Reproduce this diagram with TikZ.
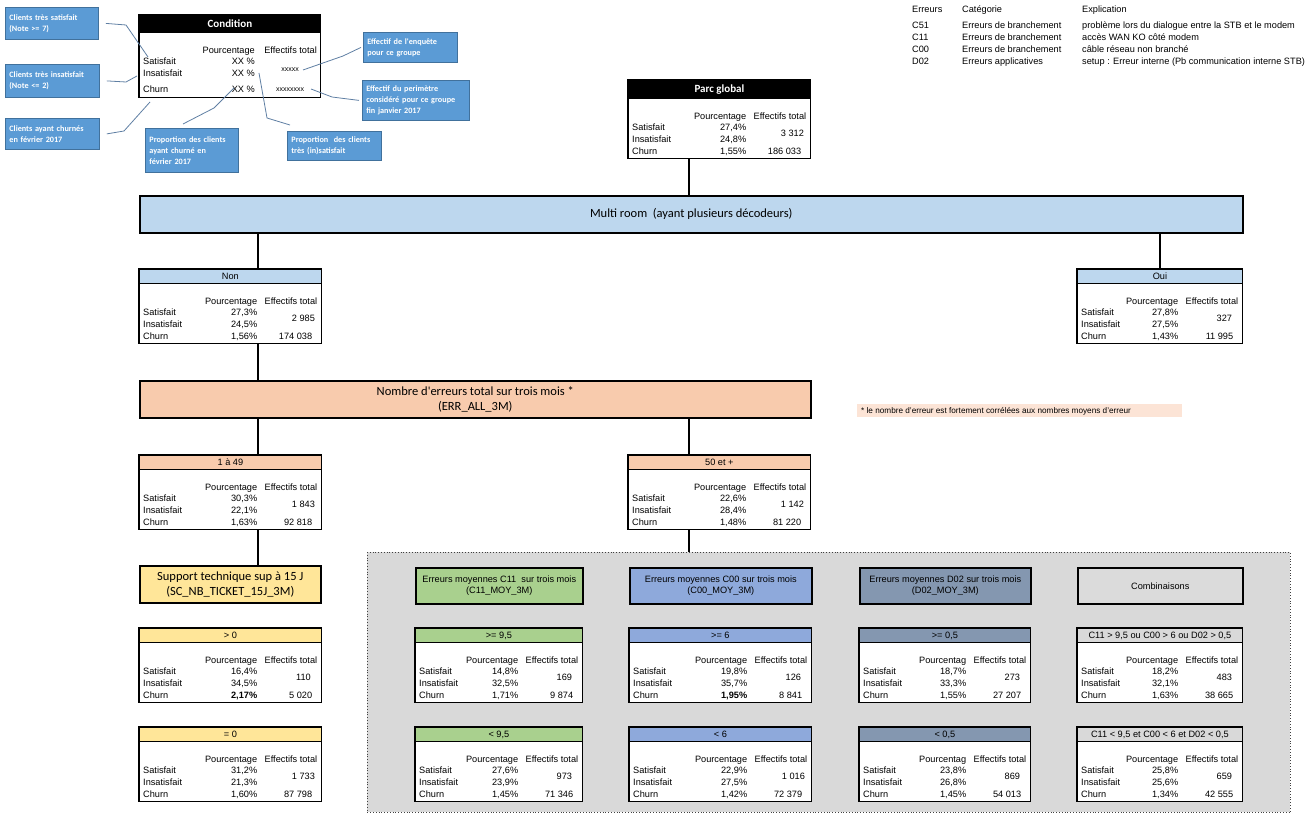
\documentclass[tikz,border=0pt]{standalone}
\usepackage{fontspec}
\setmainfont{Liberation Sans}
\newfontfamily\calibri{Carlito}
\usepackage{xcolor}
\definecolor{calloutbg}{HTML}{5B9BD5}
\definecolor{calloutbd}{HTML}{41719C}
\definecolor{leadercol}{HTML}{5F7FA3}
\definecolor{multibg}{HTML}{BDD7EE}
\definecolor{errbg}{HTML}{F8CBAD}
\definecolor{notebg}{HTML}{FCE4D6}
\definecolor{supbg}{HTML}{FFE699}
\definecolor{cOnebg}{HTML}{A9D08E}
\definecolor{cZerobg}{HTML}{8EA9DB}
\definecolor{dZerobg}{HTML}{8497B0}
\definecolor{combobg}{HTML}{DBDBDB}
\definecolor{zonebg}{HTML}{D9D9D9}
\usepackage{tikz}
\usetikzlibrary{positioning,calc}

\newcommand{\tabsize}{\fontsize{9.2}{11}\selectfont}

% result table: name, top-left, width, height, header height, header style, header text, percent label
\newcommand{\restable}[8]{%
  \node[rtbody, minimum width=#3, minimum height=#4, anchor=north west] (#1) at (#2) {};
  \node[rthead, #6, minimum width=#3, minimum height=#5, anchor=north west] (#1-h) at (#1.north west) {#7};
  \draw[rtframe] (#1.north west) rectangle (#1.south east);
  \node[rttext, anchor=mid east] (#1-hp) at ($(#1.south east)+(-64,-42)$) {#8};
  \node[rttext, anchor=mid east] (#1-he) at ($(#1.south east)+(-4,-42)$) {Effectifs total};
  \node[rttext, anchor=mid west] (#1-ls) at ($(#1.south west)+(4,-30.5)$) {Satisfait};
  \node[rttext, anchor=mid west] (#1-li) at ($(#1.south west)+(4,-18.5)$) {Insatisfait};
  \node[rttext, anchor=mid west] (#1-lc) at ($(#1.south west)+(4,-6.5)$) {Churn};
}
% values: name, satisfait, insatisfait, churn, effectif enquete, effectif total
\newcommand{\resvals}[6]{%
  \node[rttext, anchor=mid east] (#1-s) at ($(#1.south east)+(-64,-30.5)$) {#2};
  \node[rttext, anchor=mid east] (#1-i) at ($(#1.south east)+(-64,-18.5)$) {#3};
  \node[rttext, anchor=mid east] (#1-c) at ($(#1.south east)+(-64,-6.5)$) {#4};
  \node[rttext, anchor=mid] (#1-n) at ($(#1.south east)+(-18,-24.5)$) {#5};
  \node[rttext, anchor=mid east] (#1-t) at ($(#1.south east)+(-9,-6.5)$) {#6};
}

\begin{document}
\begin{tikzpicture}[x=1pt, y=-1pt,
    rtbody/.style={fill=white, inner sep=0pt},
    rthead/.style={draw=black, line width=0.8pt, inner sep=0pt, font=\tabsize},
    rtframe/.style={draw=black, line width=1.6pt},
    rttext/.style={inner sep=0pt, font=\tabsize},
    hdblack/.style={fill=black, text=white, font=\calibri\bfseries\fontsize{11}{13}\selectfont},
    hdblue/.style={fill=multibg},
    hderr/.style={fill=errbg},
    hdsup/.style={fill=supbg},
    hdcone/.style={fill=cOnebg},
    hdczero/.style={fill=cZerobg},
    hddzero/.style={fill=dZerobg},
    hdcombo/.style={fill=zonebg},
    bigbox/.style={draw=black, line width=1.6pt, inner sep=0pt, align=center, anchor=north west,
      font=\calibri\fontsize{12.5}{15}\selectfont},
    grouphd/.style={draw=black, line width=1.6pt, inner sep=0pt, align=center, anchor=north west,
      minimum height=36, font=\tabsize},
    link/.style={draw=black, line width=1.6pt},
    callout/.style={fill=calloutbg, draw=calloutbd, line width=0.8pt, text=white, align=left,
      anchor=north west, inner xsep=4pt, inner ysep=2pt,
      font=\calibri\bfseries\fontsize{8.2}{11}\selectfont},
    leader/.style={draw=leadercol, line width=0.8pt},
    legend/.style={inner sep=0pt, anchor=mid west, font=\tabsize}]
  \useasboundingbox (0,0) rectangle (1307,818);

  % legend of the error codes
  \node[legend] (leg-h1) at (912,10) {Erreurs};
  \node[legend] (leg-h2) at (962,10) {Catégorie};
  \node[legend] (leg-h3) at (1082,10) {Explication};
  \foreach \code/\cat/\expl [count=\i] in {
      C51/Erreurs de branchement/problème lors du dialogue entre la STB et le modem,
      C11/Erreurs de branchement/accès WAN KO côté modem,
      C00/Erreurs de branchement/câble réseau non branché,
      D02/Erreurs applicatives/setup : Erreur interne (Pb communication interne STB)} {
    \node[legend] (leg-\i-a) at (912,14+12*\i) {\code};
    \node[legend] (leg-\i-b) at (962,14+12*\i) {\cat};
    \node[legend] (leg-\i-c) at (1082,14+12*\i) {\expl};
  }

  % reading key: Condition
  \node[rtbody, minimum width=181, minimum height=82, anchor=north west] (cond) at (139,15) {};
  \node[rthead, hdblack, minimum width=181, minimum height=17, anchor=north west] (cond-h) at (cond.north west) {Condition};
  \draw[rtframe] (cond.north west) rectangle (cond.south east);
  \node[rttext, anchor=mid east] (cond-hp) at (255,51) {Pourcentage};
  \node[rttext, anchor=mid east] (cond-he) at (317,51) {Effectifs total};
  \node[rttext, anchor=mid west] (cond-ls) at (143,62) {Satisfait};
  \node[rttext, anchor=mid west] (cond-li) at (143,74) {Insatisfait};
  \node[rttext, anchor=mid west] (cond-lc) at (143,90) {Churn};
  \node[rttext, anchor=mid east] (cond-s) at (255,62) {XX \%};
  \node[rttext, anchor=mid east] (cond-i) at (255,74) {XX \%};
  \node[rttext, anchor=mid east] (cond-c) at (255,90) {XX \%};
  \node[rttext, font=\fontsize{7}{8}\selectfont] (cond-n) at (290,70) {xxxxx};
  \node[rttext, font=\fontsize{7}{8}\selectfont] (cond-t) at (290,90) {xxxxxxxx};

  \node[callout, text width=85, minimum height=32] (c1) at (5,7) {Clients très satisfait\\(Note >= 7)};
  \node[callout, text width=86, minimum height=33] (c2) at (5,64) {Clients très insatisfait\\(Note <= 2)};
  \node[callout, text width=86, minimum height=31] (c3) at (5,118) {Clients ayant churnés\\en février 2017};
  \node[callout, text width=85, minimum height=44] (c4) at (145,128) {Proportion des clients\\ayant churné en\\février 2017};
  \node[callout, text width=86, minimum height=29] (c5) at (287,131) {Proportion\ \ des clients\\très (in)satisfait};
  \node[callout, text width=86, minimum height=30] (c6) at (363,32) {Effectif de l'enquête\\pour ce groupe};
  \node[callout, text width=99, minimum height=40] (c7) at (362,80) {Effectif du perimètre\\considéré pour ce groupe\\fin janvier 2017};

  \coordinate (p-sat) at (148,57);
  \coordinate (p-ins) at (137,76);
  \coordinate (p-churn) at (150,102);
  \coordinate (p-pchurn) at (234,88);
  \coordinate (p-psat) at (259,73);
  \coordinate (p-n) at (303,70);
  \coordinate (p-t) at (311,89);
  \draw[leader] ([xshift=7]c1.east) -- (126,25) -- (p-sat);
  \draw[leader] ([xshift=7]c2.east) -- (126,82) -- (p-ins);
  \draw[leader] ([xshift=7]c3.east) -- (124,131) -- (p-churn);
  \draw[leader] ([shift={(38,-4)}]c4.north west) -- (214,108) -- (p-pchurn);
  \draw[leader] ([shift={(3,-6)}]c5.north west) -- (267,118) -- (p-psat);
  \draw[leader] ([xshift=-2]c6.west) -- (343,56) -- (p-n);
  \draw[leader] ([xshift=-3]c7.west) -- (332,97) -- (p-t);

  % tree
  \restable{parc}{628,80}{182}{78}{18}{hdblack}{Parc global}{Pourcentage}
  \resvals{parc}{27,4\%}{24,8\%}{1,55\%}{3 312}{186 033}

  \node[bigbox, fill=multibg, minimum width=1103, minimum height=37] (multi) at (139,195) {Multi room\ \ (ayant plusieurs décodeurs)};

  \restable{non}{139,269}{182}{74}{14}{hdblue}{Non}{Pourcentage}
  \resvals{non}{27,3\%}{24,5\%}{1,56\%}{2 985}{174 038}
  \restable{oui}{1077,269}{165}{74}{14}{hdblue}{Oui}{Pourcentage}
  \resvals{oui}{27,8\%}{27,5\%}{1,43\%}{327}{11 995}

  \node[bigbox, fill=errbg, minimum width=671, minimum height=37] (nberr) at (139,380) {Nombre d'erreurs total sur trois mois *\\(ERR\_ALL\_3M)};
  \node[fill=notebg, inner sep=0pt, anchor=north west, minimum width=325, minimum height=13] (note) at (857,404) {};
  \node[inner sep=0pt, anchor=mid west, font=\fontsize{8.2}{10}\selectfont] (note-t) at (861,410.5) {* le nombre d'erreur est fortement corrélées aux nombres moyens d'erreur};

  \restable{low}{139,455}{182}{74}{14}{hderr}{1 à 49}{Pourcentage}
  \resvals{low}{30,3\%}{22,1\%}{1,63\%}{1 843}{92 818}
  \restable{high}{628,455}{182}{74}{14}{hderr}{50 et +}{Pourcentage}
  \resvals{high}{22,6\%}{28,4\%}{1,48\%}{1 142}{81 220}

  \node[bigbox, fill=supbg, minimum width=181, minimum height=37] (sup) at (139,565) {Support technique sup à 15 J\\(SC\_NB\_TICKET\_15J\_3M)};
  \restable{supyes}{139,628}{182}{74}{14}{hdsup}{> 0}{Pourcentage}
  \resvals{supyes}{16,4\%}{34,5\%}{\textbf{2,17\%}}{110}{5 020}
  \restable{supno}{139,727}{182}{74}{14}{hdsup}{= 0}{Pourcentage}
  \resvals{supno}{31,2\%}{21,3\%}{1,60\%}{1 733}{87 798}

  % mean errors, grey zone
  \node[fill=zonebg, draw=black!75, dotted, line width=0.8pt, inner sep=0pt, anchor=north west,
    minimum width=923, minimum height=260] (zone) at (367,552) {};
  \node[grouphd, fill=cOnebg, minimum width=167] (gc11) at (415,567) {Erreurs moyennes C11\ \ sur trois mois\\(C11\_MOY\_3M)};
  \node[grouphd, fill=cZerobg, minimum width=182] (gc00) at (629,567) {Erreurs moyennes C00 sur trois mois\\(C00\_MOY\_3M)};
  \node[grouphd, fill=dZerobg, minimum width=171] (gd02) at (859,567) {Erreurs moyennes D02 sur trois mois\\(D02\_MOY\_3M)};
  \node[grouphd, fill=combobg, minimum width=165] (gcomb) at (1077,567) {Combinaisons};

  \restable{c11hi}{415,628}{167}{74}{14}{hdcone}{>= 9,5}{Pourcentage}
  \resvals{c11hi}{14,8\%}{32,5\%}{1,71\%}{169}{9 874}
  \restable{c11lo}{415,727}{167}{74}{14}{hdcone}{< 9,5}{Pourcentage}
  \resvals{c11lo}{27,6\%}{23,9\%}{1,45\%}{973}{71 346}
  \restable{c00hi}{629,628}{182}{74}{14}{hdczero}{>= 6}{Pourcentage}
  \resvals{c00hi}{19,8\%}{35,7\%}{\textbf{1,95\%}}{126}{8 841}
  \restable{c00lo}{629,727}{182}{74}{14}{hdczero}{< 6}{Pourcentage}
  \resvals{c00lo}{22,9\%}{27,5\%}{1,42\%}{1 016}{72 379}
  \restable{d02hi}{859,628}{171}{74}{14}{hddzero}{>= 0,5}{Pourcentag}
  \resvals{d02hi}{18,7\%}{33,3\%}{1,55\%}{273}{27 207}
  \restable{d02lo}{859,727}{171}{74}{14}{hddzero}{< 0,5}{Pourcentag}
  \resvals{d02lo}{23,8\%}{26,8\%}{1,45\%}{869}{54 013}
  \restable{combhi}{1077,628}{165}{74}{14}{hdcombo}{C11 > 9,5 ou C00 > 6 ou D02 > 0,5}{Pourcentage}
  \resvals{combhi}{18,2\%}{32,1\%}{1,63\%}{483}{38 665}
  \restable{comblo}{1077,727}{165}{74}{14}{hdcombo}{C11 < 9,5 et C00 < 6 et D02 < 0,5}{Pourcentage}
  \resvals{comblo}{25,8\%}{25,6\%}{1,34\%}{659}{42 555}

  % connectors
  \coordinate (parc-out) at ($(parc.south west)+(61,0)$);
  \coordinate (non-in) at ($(non.north west)+(119,0)$);
  \coordinate (high-in) at ($(high.north west)+(61,0)$);
  \coordinate (low-in) at ($(low.north west)+(119,0)$);
  \draw[link] (parc-out) -- (parc-out |- multi.north);
  \draw[link] (non-in |- multi.south) -- (non-in);
  \draw[link] (oui.north |- multi.south) -- (oui.north);
  \draw[link] (non-in |- non.south) -- (non-in |- nberr.north);
  \draw[link] (low-in |- nberr.south) -- (low-in);
  \draw[link] (high-in |- nberr.south) -- (high-in);
  \draw[link] (low-in |- low.south) -- (low-in |- sup.north);
  \draw[link] (high-in |- high.south) -- (high-in |- zone.north);
\end{tikzpicture}
\end{document}
